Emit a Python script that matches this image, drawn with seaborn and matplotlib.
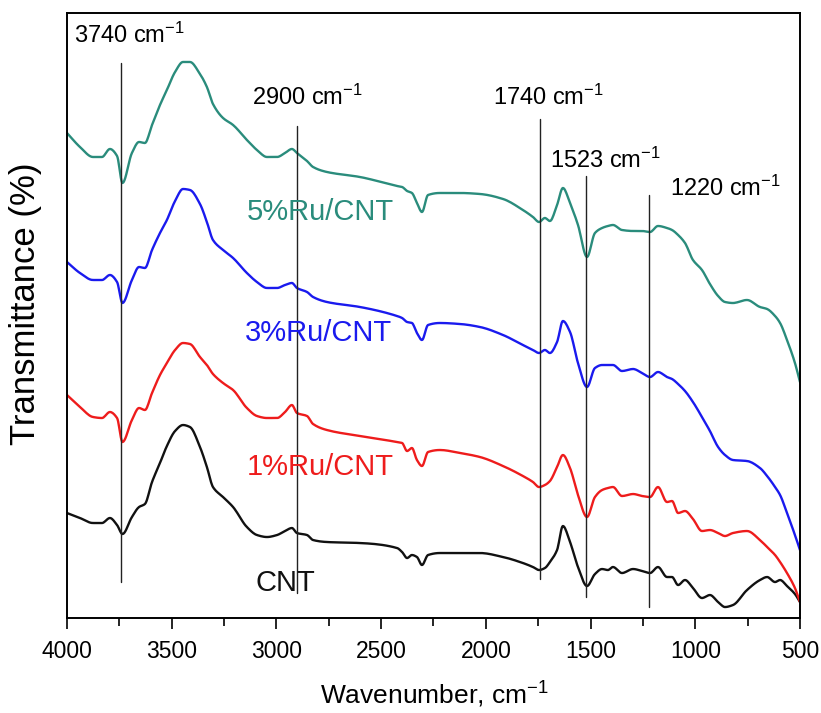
import numpy as np
import pandas as pd
import seaborn as sns
import matplotlib
matplotlib.use("Agg")
import matplotlib.pyplot as plt
from matplotlib.ticker import MultipleLocator

# wavenumber grid (cm-1)
wavenumber = [4000, 3938, 3876, 3833, 3795, 3761, 3735, 3690, 3656, 3628,
              3594, 3556, 3523, 3484, 3446, 3413, 3365, 3332, 3303, 3255,
              3207, 3141, 3093, 3045, 2997, 2959, 2926, 2902, 2854, 2825,
              2759, 2601, 2424, 2400, 2376, 2353, 2329, 2305, 2276, 2219,
              2123, 2028, 1918, 1823, 1775, 1746, 1718, 1694, 1660, 1632,
              1598, 1560, 1517, 1479, 1445, 1417, 1393, 1350, 1297, 1254,
              1216, 1178, 1135, 1111, 1082, 1049, 1011, 968, 930, 891,
              858, 820, 753, 691, 657, 619, 595, 562, 524, 500]

# transmittance, arbitrary offset units
cnt = [105, 100, 95, 95, 100, 93, 84, 101, 111, 114,
       136, 155, 172, 187, 193, 191, 171, 151, 131, 121,
       111, 91, 83, 81, 83, 87, 90, 85, 83, 78,
       76, 75, 70, 66, 60, 63, 61, 53, 63, 65,
       65, 65, 61, 55, 51, 48, 50, 56, 68, 92,
       76, 51, 32, 44, 49, 48, 51, 45, 49, 47,
       45, 51, 41, 41, 33, 38, 30, 20, 23, 16,
       11, 13, 28, 38, 41, 36, 38, 32, 24, 16]

ru1 = [223, 211, 201, 200, 206, 200, 176, 198, 210, 208,
       225, 243, 255, 268, 275, 274, 261, 253, 244, 235,
       228, 210, 202, 200, 200, 206, 213, 205, 202, 194,
       188, 182, 176, 175, 167, 170, 158, 152, 166, 168,
       165, 161, 152, 142, 136, 131, 133, 137, 151, 163,
       150, 123, 101, 121, 128, 130, 131, 122, 124, 122,
       121, 131, 116, 117, 105, 107, 99, 87, 88, 85,
       82, 85, 87, 78, 71, 63, 56, 45, 30, 16]

ru3 = [356, 345, 338, 338, 343, 336, 315, 338, 351, 350,
       368, 385, 398, 417, 429, 428, 414, 396, 378, 368,
       360, 345, 336, 330, 330, 333, 335, 330, 326, 321,
       316, 311, 302, 300, 296, 295, 285, 278, 293, 295,
       294, 291, 283, 273, 268, 265, 268, 265, 276, 297,
       286, 255, 231, 250, 253, 253, 253, 247, 249, 245,
       241, 246, 241, 239, 234, 227, 216, 201, 187, 171,
       163, 158, 157, 150, 142, 131, 123, 105, 83, 68]

ru5 = [485, 471, 461, 461, 469, 462, 435, 465, 476, 475,
       493, 513, 528, 546, 556, 556, 544, 531, 514, 500,
       493, 478, 468, 461, 461, 465, 469, 465, 457, 451,
       446, 441, 432, 431, 427, 425, 415, 406, 423, 425,
       425, 424, 419, 408, 401, 396, 400, 397, 413, 430,
       415, 393, 361, 385, 390, 392, 393, 388, 387, 387,
       386, 392, 390, 388, 383, 375, 358, 348, 334, 322,
       316, 315, 318, 311, 309, 302, 295, 278, 255, 236]

samples = ["CNT", "1%Ru/CNT", "3%Ru/CNT", "5%Ru/CNT"]
colors = ["#111111", "#ee1c1c", "#1a1aee", "#2a8c7c"]

# marked bands
band_pos = [3740, 2900, 1740, 1523, 1220]
band_lo = [36, 25, 39, 21, 11]
band_hi = [555, 492, 499, 442, 423]
band_text_x = [3967, 3117, 1966, 1694, 1121]
band_text_y = [583, 521, 521, 458, 430]

label_x = [2957, 2792, 2801, 2792]
label_y = [35, 151, 285, 406]


def smooth_curve(x, y, n=10):
    # monotone cubic (pchip style) through the read points, rounds corners
    x = np.asarray(x, float)
    y = np.asarray(y, float)
    h = np.diff(x)
    d = np.diff(y) / h
    m = np.zeros_like(y)
    m[0], m[-1] = d[0], d[-1]
    for k in range(1, len(x) - 1):
        if d[k - 1] * d[k] > 0:
            w1 = 2 * h[k] + h[k - 1]
            w2 = h[k] + 2 * h[k - 1]
            m[k] = (w1 + w2) / (w1 / d[k - 1] + w2 / d[k])
    t = np.linspace(0, 1, n, endpoint=False)
    h00 = 2 * t**3 - 3 * t**2 + 1
    h10 = t**3 - 2 * t**2 + t
    h01 = -2 * t**3 + 3 * t**2
    h11 = t**3 - t**2
    xs, ys = [], []
    for i in range(len(x) - 1):
        xs.append(x[i] + t * h[i])
        ys.append(h00 * y[i] + h10 * h[i] * m[i] + h01 * y[i + 1] + h11 * h[i] * m[i + 1])
    xs.append([x[-1]])
    ys.append([y[-1]])
    return np.concatenate(xs), np.concatenate(ys)


frames = []
for s, vals in zip(samples, [cnt, ru1, ru3, ru5]):
    xs, ys = smooth_curve(wavenumber, vals)
    frames.append(pd.DataFrame({"wn": xs, "T": ys, "sample": s}))
df = pd.concat(frames, ignore_index=True)

sns.set_style("ticks")
plt.rcParams["font.family"] = ["Liberation Sans", "DejaVu Sans"]
plt.rcParams["mathtext.fontset"] = "custom"
plt.rcParams["mathtext.rm"] = "Liberation Sans"
plt.rcParams["mathtext.it"] = "Liberation Sans"

fig = plt.figure(figsize=(8.21, 7.13), dpi=100)
ax = fig.add_axes([0.0816, 0.1332, 0.8928, 0.8486])

sns.lineplot(data=df, x="wn", y="T", hue="sample", hue_order=samples,
             palette=colors, linewidth=1.7, legend=False, ax=ax,
             estimator=None, sort=False)

for p, lo, hi in zip(band_pos, band_lo, band_hi):
    ax.plot([p, p], [lo, hi], color="#222222", linewidth=1.0)

for p, tx, ty in zip(band_pos, band_text_x, band_text_y):
    ax.text(tx, ty, str(p) + r" cm$^{-1}$", fontsize=17, ha="left",
            va="center", color="black")

for s, c, lx, ly in zip(samples, colors, label_x, label_y):
    ax.text(lx, ly, s, fontsize=21, ha="center", va="center", color=c)

ax.set_xlim(4000, 500)
ax.set_ylim(0, 605)
ax.xaxis.set_major_locator(MultipleLocator(500))
ax.xaxis.set_minor_locator(MultipleLocator(250))
ax.tick_params(axis="x", which="major", direction="out", length=8,
               width=1.2, labelsize=16.5, pad=8, colors="black")
ax.tick_params(axis="x", which="minor", direction="out", length=6,
               width=1.2, colors="black")
ax.set_yticks([])
for sp in ax.spines.values():
    sp.set_visible(True)
    sp.set_linewidth(1.4)
    sp.set_color("black")

ax.set_xlabel(r"Wavenumber, cm$^{-1}$", fontsize=19, color="black")
ax.set_ylabel("Transmittance (%)", fontsize=25, color="black")
ax.xaxis.set_label_coords(0.501, -0.127)
ax.xaxis.label.set_va("center")
ax.yaxis.set_label_coords(-0.057, 0.519)
ax.yaxis.label.set_va("center")

fig.savefig("out.png", dpi=100)
